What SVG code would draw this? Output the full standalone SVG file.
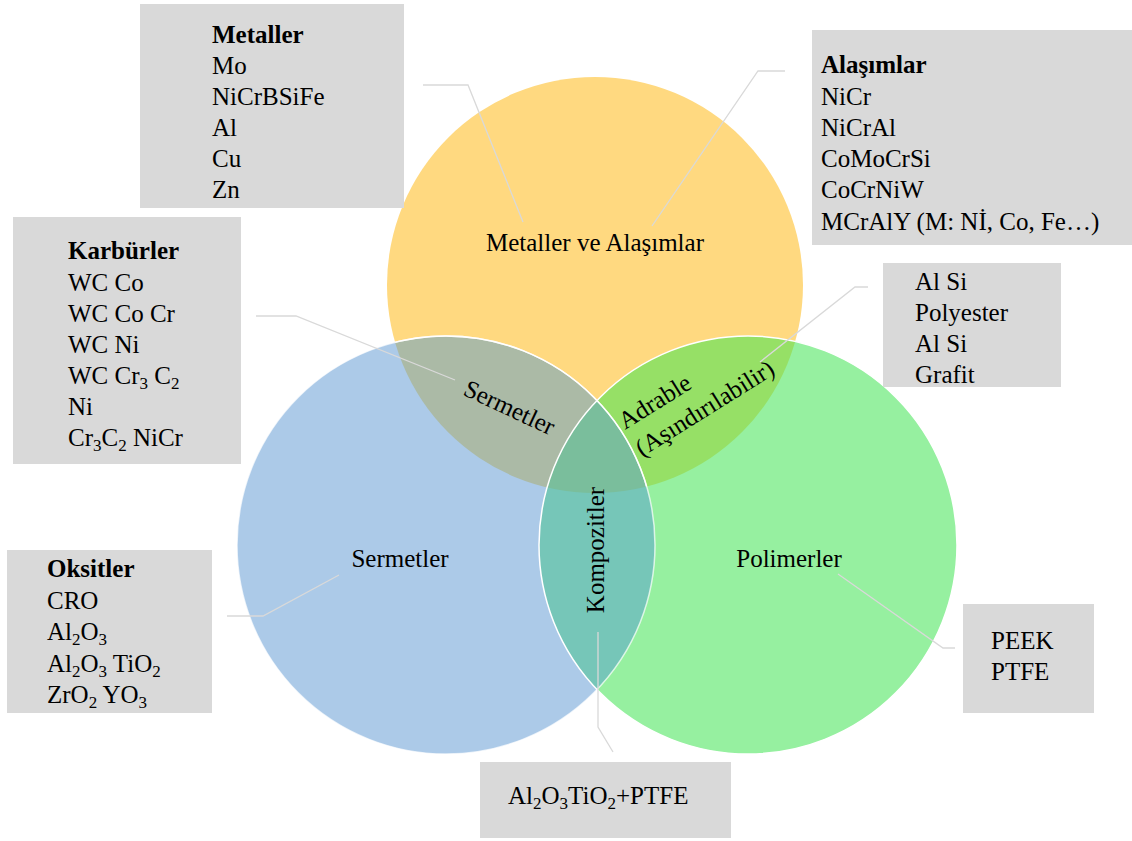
<svg xmlns="http://www.w3.org/2000/svg" width="1132" height="841" viewBox="0 0 1132 841">
<style>
text{font-family:"Liberation Serif","Times New Roman",serif;font-size:25px;fill:#000}
.b{font-weight:bold}
.s{font-size:17px}
.box{fill:#D9D9D9}
.con{fill:none;stroke:#D9D9D9;stroke-width:1.3}
.ol{fill:none;stroke:#FFFFFF;stroke-width:1.5}
</style>
<defs>
<clipPath id="cY"><circle cx="595" cy="285" r="208"/></clipPath>
<clipPath id="cB"><circle cx="446" cy="545" r="209"/></clipPath>
</defs>
<rect width="1132" height="841" fill="#FFFFFF"/>
<g id="venn">
<circle id="yellow" cx="595" cy="285" r="208" fill="#FFD980"/>
<circle id="blue" cx="446" cy="545" r="209" fill="#ACCAE8"/>
<circle id="green" cx="748" cy="545" r="209" fill="#96F0A0"/>
<circle cx="446" cy="545" r="209" fill="#ABBAA6" clip-path="url(#cY)"/>
<circle cx="748" cy="545" r="209" fill="#96E066" clip-path="url(#cY)"/>
<circle cx="748" cy="545" r="209" fill="#76C6B8" clip-path="url(#cB)"/>
<g clip-path="url(#cY)"><circle cx="748" cy="545" r="209" fill="#7ABE9C" clip-path="url(#cB)"/></g>
<circle class="ol" cx="446" cy="545" r="209" clip-path="url(#cY)"/>
<circle class="ol" cx="748" cy="545" r="209"/>
<circle class="ol" cx="446" cy="545" r="209" stroke-opacity="0.7"/>
</g>
<g id="connectors">
<polyline class="con" points="423,85 468,85 523,222"/>
<polyline class="con" points="785,71 758,71 652,226"/>
<polyline class="con" points="256,316 296,316 455,380"/>
<polyline class="con" points="227,616 263,616 339,575"/>
<polyline class="con" points="868,287 855,287 760,362"/>
<polyline class="con" points="955,648 943,648 838,574"/>
<polyline class="con" points="598,632 598,727 613,752"/>
</g>
<g id="labels">
<text x="595" y="251" text-anchor="middle">Metaller ve Alaşımlar</text>
<text x="400" y="567" text-anchor="middle">Sermetler</text>
<text x="789" y="567" text-anchor="middle">Polimerler</text>
<text transform="translate(506,415) rotate(25)" text-anchor="middle">Sermetler</text>
<text transform="translate(625,430) rotate(-32)"><tspan x="0" y="0">Adrable</tspan><tspan x="0" y="32">(Aşındırılabilir)</tspan></text>
<text transform="translate(604,550) rotate(-90)" text-anchor="middle">Kompozitler</text>
</g>
<g id="node-metaller">
<rect class="box" x="140" y="4" width="264" height="204"/>
<text x="212" y="43" class="b">Metaller</text>
<text x="212" y="74">Mo</text>
<text x="212" y="105">NiCrBSiFe</text>
<text x="212" y="136">Al</text>
<text x="212" y="167">Cu</text>
<text x="212" y="198">Zn</text>
</g>
<g id="node-alasimlar">
<rect class="box" x="812" y="30" width="320" height="215"/>
<text x="821" y="73" class="b">Alaşımlar</text>
<text x="821" y="105">NiCr</text>
<text x="821" y="136">NiCrAl</text>
<text x="821" y="167">CoMoCrSi</text>
<text x="821" y="198">CoCrNiW</text>
<text x="821" y="230">MCrAlY (M: Nİ, Co, Fe…)</text>
</g>
<g id="node-karburler">
<rect class="box" x="13" y="217" width="228" height="247"/>
<text x="68" y="259" class="b">Karbürler</text>
<text x="68" y="291">WC Co</text>
<text x="68" y="322">WC Co Cr</text>
<text x="68" y="353">WC Ni</text>
<text x="68" y="384">WC Cr<tspan class="s" dy="5">3</tspan><tspan dy="-5"> C</tspan><tspan class="s" dy="5">2</tspan></text>
<text x="68" y="415">Ni</text>
<text x="68" y="446">Cr<tspan class="s" dy="5">3</tspan><tspan dy="-5">C</tspan><tspan class="s" dy="5">2</tspan><tspan dy="-5"> NiCr</tspan></text>
</g>
<g id="node-oksitler">
<rect class="box" x="7" y="550" width="205" height="163"/>
<text x="47" y="577" class="b">Oksitler</text>
<text x="47" y="609">CRO</text>
<text x="47" y="640">Al<tspan class="s" dy="5">2</tspan><tspan dy="-5">O</tspan><tspan class="s" dy="5">3</tspan></text>
<text x="47" y="672">Al<tspan class="s" dy="5">2</tspan><tspan dy="-5">O</tspan><tspan class="s" dy="5">3</tspan><tspan dy="-5"> TiO</tspan><tspan class="s" dy="5">2</tspan></text>
<text x="47" y="703">ZrO<tspan class="s" dy="5">2</tspan><tspan dy="-5"> YO</tspan><tspan class="s" dy="5">3</tspan></text>
</g>
<g id="node-adrable">
<rect class="box" x="883" y="263" width="178" height="124"/>
<text x="915" y="290">Al Si</text>
<text x="915" y="321">Polyester</text>
<text x="915" y="352">Al Si</text>
<text x="915" y="383">Grafit</text>
</g>
<g id="node-polimer">
<rect class="box" x="963" y="604" width="131" height="109"/>
<text x="991" y="649">PEEK</text>
<text x="991" y="680">PTFE</text>
</g>
<g id="node-kompozit">
<rect class="box" x="480" y="762" width="251" height="76"/>
<text x="508" y="804">Al<tspan class="s" dy="5">2</tspan><tspan dy="-5">O</tspan><tspan class="s" dy="5">3</tspan><tspan dy="-5">TiO</tspan><tspan class="s" dy="5">2</tspan><tspan dy="-5">+PTFE</tspan></text>
</g>
</svg>
